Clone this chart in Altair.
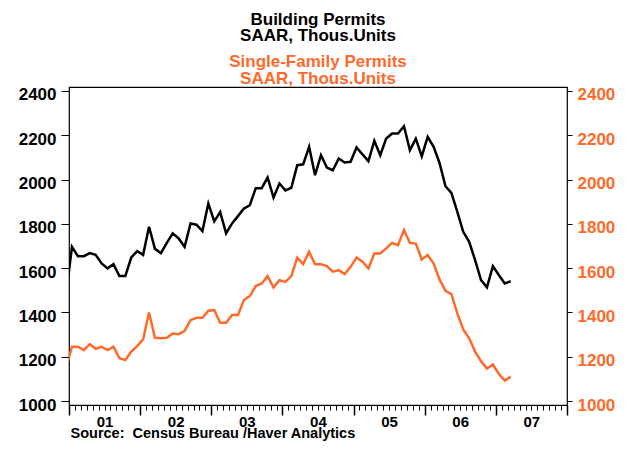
import altair as alt
import pandas as pd

# Monthly data, Dec 2000 .. Mar 2007 (first point sits just left of the frame and is clipped)
months = pd.period_range("2000-12", "2007-03", freq="M").astype(str).tolist()

total_permits = [
    1480,
    1696, 1654, 1654, 1668, 1660, 1621, 1599, 1618, 1564, 1564, 1648, 1677,
    1660, 1787, 1687, 1668, 1714, 1757, 1734, 1696, 1802, 1796, 1767, 1892,
    1811, 1853, 1757, 1802, 1835, 1869, 1884, 1961, 1961, 2009, 1919, 1982,
    1951, 1963, 2065, 2069, 2148, 2020, 2110, 2054, 2042, 2095, 2077, 2080,
    2145, 2114, 2083, 2175, 2110, 2185, 2208, 2208, 2241, 2133, 2185, 2105,
    2193, 2148, 2075, 1970, 1940, 1854, 1764, 1719, 1636, 1546, 1513, 1609,
    1569, 1531, 1541,
]

single_family = [
    1150,
    1245, 1245, 1230, 1257, 1236, 1245, 1230, 1245, 1193, 1185, 1223, 1248,
    1278, 1400, 1286, 1283, 1286, 1305, 1302, 1317, 1365, 1376, 1376, 1408,
    1411, 1353, 1353, 1388, 1388, 1456, 1474, 1519, 1531, 1564, 1513, 1546,
    1538, 1564, 1647, 1618, 1674, 1618, 1618, 1609, 1584, 1591, 1573, 1606,
    1648, 1629, 1599, 1666, 1666, 1689, 1714, 1704, 1772, 1714, 1711, 1639,
    1659, 1621, 1549, 1498, 1483, 1396, 1323, 1283, 1223, 1180, 1147, 1165,
    1122, 1092, 1110,
]

y_ticks = [1000, 1200, 1400, 1600, 1800, 2000, 2200, 2400]
year_ticks = [2001, 2002, 2003, 2004, 2005, 2006, 2007, 2008]

df = pd.DataFrame({"month": months, "total": total_permits, "single": single_family})
per = pd.PeriodIndex(df["month"], freq="M")
df["t"] = per.year + (per.month - 0.5) / 12.0

month_ticks = [2001 + m / 12.0 for m in range(0, 85)]

BLACK = "#000000"
ORANGE = "#FF6A2A"
FONT = "Liberation Sans"

xscale = alt.Scale(domain=[2001, 2008], nice=False, zero=False)
yscale = alt.Scale(domain=[982, 2418], nice=False, zero=False)

black_line = alt.Chart(df).mark_line(color=BLACK, strokeWidth=2.5, clip=True).encode(
    x=alt.X("t:Q", scale=xscale, axis=alt.Axis(
        orient="bottom", values=month_ticks, tickSize=5, tickColor=BLACK, tickWidth=1,
        labels=False, domain=False, grid=False,
        title="Source:\u00a0 Census Bureau /Haver Analytics",
        titleAnchor="start", titleAlign="left", titleX=1, titleY=32.5,
        titleBaseline="alphabetic", titleFontSize=14.5, titleFontWeight="bold",
        titleFont=FONT, titleColor=BLACK)),
    y=alt.Y("total:Q", scale=yscale, axis=alt.Axis(
        orient="left", values=y_ticks, format="d", tickSize=8, tickColor=BLACK,
        labelPadding=5, labelFontSize=17, labelFontWeight="bold", labelFont=FONT,
        labelColor=BLACK, labelOffset=4, domain=False, grid=False, title=None)),
)

orange_line = alt.Chart(df).mark_line(color=ORANGE, strokeWidth=2.5, clip=True).encode(
    x=alt.X("t:Q", scale=xscale, axis=alt.Axis(
        orient="bottom", values=year_ticks, tickSize=10, tickColor=BLACK, tickWidth=1.5,
        labelExpr="datum.value < 2008 ? '0' + (datum.value - 2000) : ''",
        labelOffset=35.5, labelFlush=False, labelPadding=-0.5, labelFontSize=15,
        labelFontWeight="bold", labelFont=FONT, labelColor=BLACK,
        domain=False, grid=False, title=None)),
    y=alt.Y("single:Q", scale=yscale, axis=alt.Axis(
        orient="right", values=y_ticks, format="d", tickSize=5, tickColor=BLACK,
        labelPadding=5, labelFontSize=17, labelFontWeight="bold", labelFont=FONT,
        labelColor=ORANGE, labelOffset=4, domain=False, grid=False, title=None)),
)

chart = alt.layer(black_line, orange_line).resolve_scale(
    x="independent", y="independent"
).resolve_axis(
    x="independent", y="independent"
).properties(
    width=498,
    height=318,
    autosize=alt.AutoSizeParams(type="none"),
    padding={"left": 61, "top": 79, "right": 53, "bottom": 36},
    background="white",
    title=alt.Title(
        ["Building Permits", "SAAR, Thous.Units"],
        subtitle=["Single-Family Permits", "SAAR, Thous.Units"],
        fontSize=17, fontWeight="bold", font=FONT, color=BLACK, lineHeight=16.5,
        subtitleFontSize=17, subtitleFontWeight="bold", subtitleFont=FONT,
        subtitleColor=ORANGE, subtitleLineHeight=16.5, subtitlePadding=9,
        anchor="middle", offset=-2,
    ),
).configure_view(stroke=BLACK, strokeWidth=1.2)

chart.save("out.html", embed_options={"renderer": "svg", "actions": False})
